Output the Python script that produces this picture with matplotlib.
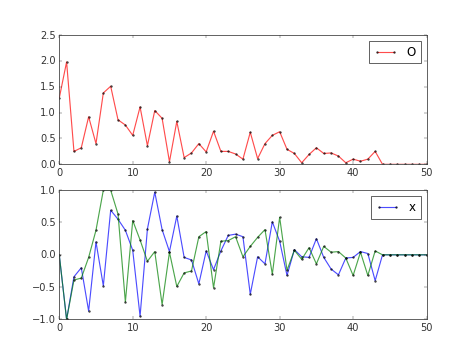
import matplotlib
matplotlib.use("Agg")
import matplotlib.pyplot as plt
import numpy as np

plt.style.use("classic")
plt.rcParams["axes.edgecolor"] = "#444444"
plt.rcParams["xtick.color"] = "#333333"
plt.rcParams["ytick.color"] = "#333333"
plt.rcParams["legend.edgecolor"] = "#444444"

x = list(range(51))

red_vals = [1.28, 1.98, 0.25, 0.32, 0.92, 0.40, 1.38, 1.51, 0.86, 0.76,
            0.56, 1.11, 0.36, 1.04, 0.89, 0.05, 0.83, 0.13, 0.22, 0.40,
            0.24, 0.64, 0.25, 0.25, 0.20, 0.10, 0.62, 0.11, 0.40, 0.56,
            0.63, 0.29, 0.21, 0.03, 0.19, 0.32, 0.21, 0.22, 0.16, 0.03,
            0.10, 0.06, 0.10, 0.25, 0.0, 0.0, 0.0, 0.0, 0.0, 0.0, 0.0]

blue_vals = [0.0, -1.0, -0.34, -0.20, -0.87, 0.20, -0.48, 0.69, 0.55, 0.38,
             0.07, -0.95, 0.40, 0.97, 0.39, 0.05, 0.60, -0.04, -0.08, -0.45,
             0.06, -0.23, 0.06, 0.30, 0.32, 0.28, -0.61, -0.03, -0.14, 0.51,
             0.21, -0.32, 0.08, -0.03, -0.04, 0.25, -0.04, -0.22, -0.31, -0.05,
             -0.04, 0.05, 0.02, -0.40, 0.0, 0.0, 0.0, 0.0, 0.0, 0.0, 0.0]

green_vals = [0.0, -1.0, -0.39, -0.36, -0.04, 0.38, 1.0, 1.0, 0.63, -0.73,
              0.53, 0.23, -0.10, 0.05, -0.77, 0.04, -0.49, -0.28, -0.25, 0.28,
              0.36, -0.51, 0.21, 0.22, 0.28, -0.03, 0.13, 0.27, 0.39, -0.30,
              0.58, -0.24, 0.07, -0.07, 0.11, -0.14, 0.13, 0.04, 0.05, -0.05,
              -0.32, 0.04, -0.32, 0.06, 0.0, 0.0, 0.0, 0.0, 0.0, 0.0, 0.0]

fig = plt.figure(figsize=(8, 6), dpi=59.25)
fig.subplots_adjust(left=0.125, right=0.9, bottom=0.1, top=0.9, hspace=0.2)

style = dict(alpha=0.7, marker=".", markersize=4.5, linewidth=1.4,
             markeredgecolor="k", markerfacecolor="k")

ax1 = fig.add_subplot(2, 1, 1)
ax1.plot(x, red_vals, color="red", label="O", **style)
ax1.set_xlim(0, 50)
ax1.set_ylim(0, 2.5)
ax1.legend(loc="upper right", numpoints=2)

ax2 = fig.add_subplot(2, 1, 2)
ax2.plot(x, blue_vals, color="blue", label="x", **style)
ax2.plot(x, green_vals, color="green", **style)
ax2.set_xlim(0, 50)
ax2.set_ylim(-1.0, 1.0)
ax2.legend(loc="upper right", numpoints=2)

fig.savefig("out.png", dpi=59.25)
